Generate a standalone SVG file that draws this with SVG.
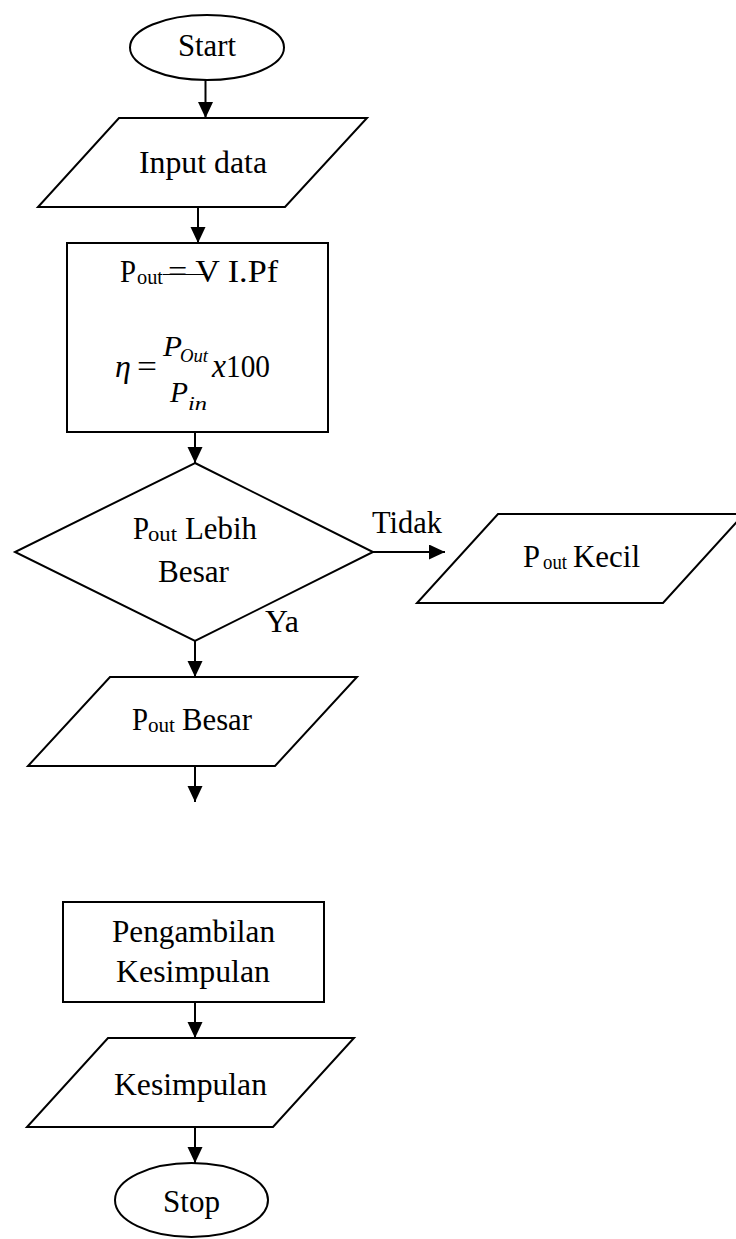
<svg xmlns="http://www.w3.org/2000/svg" width="736" height="1239" viewBox="0 0 736 1239">
<style>
.s{fill:#fff;stroke:#000;stroke-width:2}
.t{font-family:"Liberation Serif","Times New Roman",serif;font-size:31px;fill:#000}
.sub{font-family:"Liberation Serif","Times New Roman",serif;font-size:21px;fill:#000}
.i{font-family:"Liberation Serif","Times New Roman",serif;font-style:italic;fill:#000}
.c{stroke:#000;stroke-width:2;fill:none}
</style>
<defs>
<marker id="ah" markerUnits="userSpaceOnUse" markerWidth="17" markerHeight="16" refX="16" refY="7.5" orient="auto">
<path d="M0,0 L16,7.5 L0,15 z" fill="#000"/>
</marker>
</defs>
<rect width="736" height="1239" fill="#fff"/>
<g id="connectors">
<line class="c" x1="205.5" y1="80" x2="205.5" y2="118" marker-end="url(#ah)"/>
<line class="c" x1="198" y1="207" x2="198" y2="243" marker-end="url(#ah)"/>
<line class="c" x1="195" y1="432" x2="195" y2="463" marker-end="url(#ah)"/>
<line class="c" x1="373" y1="552" x2="445" y2="552" marker-end="url(#ah)"/>
<line class="c" x1="195" y1="641" x2="195" y2="677" marker-end="url(#ah)"/>
<line class="c" x1="195" y1="766" x2="195" y2="802" marker-end="url(#ah)"/>
<line class="c" x1="195" y1="1002" x2="195" y2="1038" marker-end="url(#ah)"/>
<line class="c" x1="195" y1="1127" x2="195" y2="1163" marker-end="url(#ah)"/>
<text class="t" x="372" y="533" textLength="70" lengthAdjust="spacingAndGlyphs">Tidak</text>
<text class="t" x="265" y="632" textLength="34" lengthAdjust="spacingAndGlyphs">Ya</text>
</g>
<g id="start">
<ellipse class="s" cx="207" cy="47.5" rx="77" ry="32.5"/>
<text class="t" x="178" y="56" textLength="58" lengthAdjust="spacingAndGlyphs">Start</text>
</g>
<g id="input">
<polygon class="s" points="119,118 367,118 285,207 38,207"/>
<text class="t" x="139" y="173" textLength="128" lengthAdjust="spacingAndGlyphs">Input data</text>
</g>
<g id="process">
<rect class="s" x="67" y="243" width="261" height="189"/>
<text class="t" x="120" y="282" textLength="16" lengthAdjust="spacingAndGlyphs">P</text>
<text class="sub" x="137" y="284" textLength="26" lengthAdjust="spacingAndGlyphs">out</text>
<text class="t" x="168" y="282" textLength="110" lengthAdjust="spacingAndGlyphs">= V I.Pf</text>
<line x1="163" y1="274.5" x2="207" y2="274.5" stroke="#000" stroke-width="1"/>
<text class="i" x="115" y="377" font-size="32">η</text>
<text class="t" x="137" y="377" font-size="34" textLength="20" lengthAdjust="spacingAndGlyphs">=</text>
<text class="i" x="163" y="356" font-size="30" textLength="19" lengthAdjust="spacingAndGlyphs">P</text>
<text class="i" x="180" y="362" font-size="19" textLength="28" lengthAdjust="spacingAndGlyphs">Out</text>
<text class="i" x="212" y="377" font-size="33" textLength="14" lengthAdjust="spacingAndGlyphs">x</text>
<text class="t" x="226" y="377" font-size="33" textLength="44" lengthAdjust="spacingAndGlyphs">100</text>
<text class="i" x="170" y="402" font-size="30" textLength="18" lengthAdjust="spacingAndGlyphs">P</text>
<text class="i" x="188" y="410" font-size="19" textLength="19" lengthAdjust="spacingAndGlyphs">in</text>
</g>
<g id="decision">
<polygon class="s" points="195,463 373,552 195,641 15,552"/>
<text class="t" x="133" y="539" textLength="16" lengthAdjust="spacingAndGlyphs">P</text>
<text class="sub" x="148" y="541" textLength="29" lengthAdjust="spacingAndGlyphs">out</text>
<text class="t" x="185" y="539" textLength="72" lengthAdjust="spacingAndGlyphs">Lebih</text>
<text class="t" x="158" y="582" textLength="71" lengthAdjust="spacingAndGlyphs">Besar</text>
</g>
<g id="kecil">
<polygon class="s" points="498,514 744,514 663,603 417,603"/>
<text class="t" x="523" y="567" textLength="17" lengthAdjust="spacingAndGlyphs">P</text>
<text class="sub" x="543" y="569" textLength="24" lengthAdjust="spacingAndGlyphs">out</text>
<text class="t" x="573" y="567" textLength="67" lengthAdjust="spacingAndGlyphs">Kecil</text>
</g>
<g id="besar">
<polygon class="s" points="110,677 357,677 275,766 28,766"/>
<text class="t" x="132" y="730" textLength="16" lengthAdjust="spacingAndGlyphs">P</text>
<text class="sub" x="148" y="732" textLength="27" lengthAdjust="spacingAndGlyphs">out</text>
<text class="t" x="182" y="730" textLength="70" lengthAdjust="spacingAndGlyphs">Besar</text>
</g>
<g id="pengambilan">
<rect class="s" x="63" y="902" width="261" height="100"/>
<text class="t" x="112" y="942" textLength="163" lengthAdjust="spacingAndGlyphs">Pengambilan</text>
<text class="t" x="116" y="982" textLength="154" lengthAdjust="spacingAndGlyphs">Kesimpulan</text>
</g>
<g id="kesimpulan">
<polygon class="s" points="108,1038 354,1038 273,1127 27,1127"/>
<text class="t" x="114" y="1095" textLength="153" lengthAdjust="spacingAndGlyphs">Kesimpulan</text>
</g>
<g id="stop">
<ellipse class="s" cx="191.5" cy="1200" rx="76.5" ry="37"/>
<text class="t" x="163" y="1212" textLength="57" lengthAdjust="spacingAndGlyphs">Stop</text>
</g>
</svg>
